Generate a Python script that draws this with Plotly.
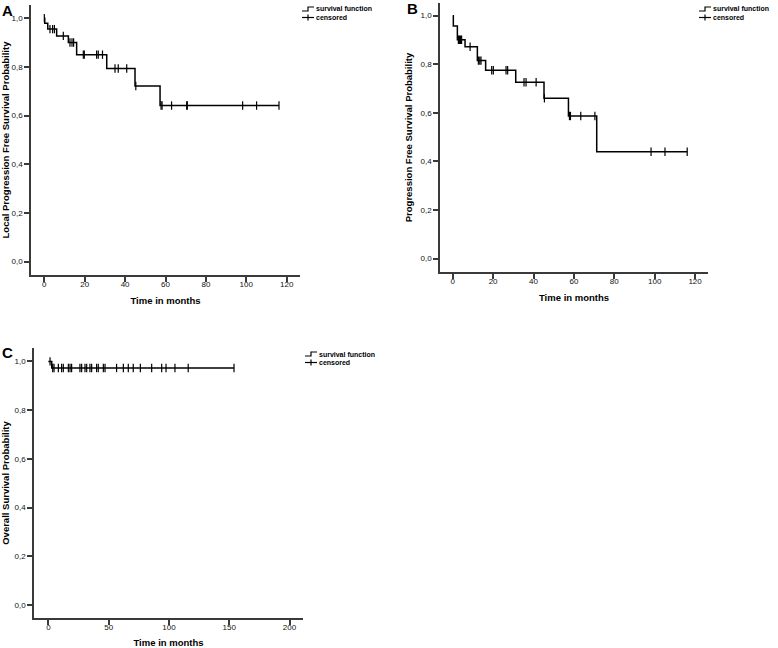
"""Kaplan-Meier curves: local PFS (A), PFS (B), overall survival (C)."""

import plotly.graph_objects as go

# ==== data ====
# Panel A: local progression free survival
a_event_times = [0.2, 1.7, 6.1, 11.9, 16.0, 30.9, 44.9, 57.3]
a_survival = [0.979, 0.955, 0.927, 0.900, 0.850, 0.793, 0.721, 0.641]
a_censor_times = [0.0, 2.8, 4.1, 5.0, 9.4, 12.7, 13.7, 14.5, 19.3, 19.8, 25.9, 26.7,
                  28.8, 35.0, 36.6, 40.8, 45.3, 57.8, 58.3, 63.0, 70.5, 70.8, 98.2,
                  105.1, 116.2]

# Panel B: progression free survival
b_event_times = [0.3, 2.3, 6.1, 12.2, 16.3, 31.2, 45.2, 57.3, 71.3]
b_survival = [0.957, 0.901, 0.872, 0.815, 0.775, 0.726, 0.660, 0.587, 0.440]
b_censor_times = [2.8, 3.3, 3.8, 4.4, 8.6, 12.7, 13.4, 14.0, 19.3, 20.1, 26.4, 27.2,
                  35.3, 36.3, 41.3, 45.4, 57.8, 58.3, 63.4, 70.4, 98.2, 105.1, 116.1]

# Panel C: overall survival
c_event_times = [2.8]
c_survival = [0.973]
c_censor_times = [1.4, 3.6, 4.7, 8.3, 11.0, 12.4, 16.6, 18.0, 19.3, 26.2, 27.6, 30.4,
                  31.8, 34.5, 35.9, 40.0, 41.4, 45.6, 47.0, 56.6, 62.2, 66.3, 70.4,
                  76.3, 85.7, 94.0, 97.6, 105.0, 116.0, 154.0]

y_titles = [
    "Local Progression Free Survival Probability",
    "Progression Free Survival Probability",
    "Overall Survival Probability",
]
panel_letters = ["A", "B", "C"]
x_title = "Time in months"
legend_labels = ["survival function", "censored"]

FONT = "Liberation Sans, Arial, sans-serif"
AXIS_COLOR = "#3a3a3a"
W, H = 778, 648


def survival_at(t, event_times, survival):
    s = 1.0
    for et, sv in zip(event_times, survival):
        if et <= t:
            s = sv
    return s


def add_km(fig, event_times, survival, censor_times, xref, yref):
    end = max(censor_times[-1], event_times[-1])
    xs = [0.0] + event_times + [end]
    ys = [1.0] + survival + [survival[-1]]
    fig.add_trace(go.Scatter(
        x=xs, y=ys, mode="lines", line=dict(shape="hv", color="black", width=1.5),
        name=legend_labels[0], xaxis=xref, yaxis=yref, showlegend=False,
    ))
    cy = [survival_at(t, event_times, survival) for t in censor_times]
    fig.add_trace(go.Scatter(
        x=censor_times, y=cy, mode="markers",
        marker=dict(symbol="line-ns", size=6, line=dict(color="black", width=1.2)),
        name=legend_labels[1], xaxis=xref, yaxis=yref, showlegend=False,
    ))


def px_x(v):
    return v / W


def px_y(v):
    return 1 - v / H


def legend_box(x0, y0):
    """SPSS-style legend: step glyph + 'survival function', cross glyph + 'censored'."""
    line = dict(color="black", width=1.2)
    y1 = y0 + 8.5
    shapes = [
        dict(type="path", xref="paper", yref="paper", line=line,
             path="M %f %f L %f %f L %f %f L %f %f" % (
                 px_x(x0), px_y(y0 + 2), px_x(x0 + 6), px_y(y0 + 2),
                 px_x(x0 + 6), px_y(y0 - 2), px_x(x0 + 12), px_y(y0 - 2))),
        dict(type="line", xref="paper", yref="paper", line=line,
             x0=px_x(x0), x1=px_x(x0 + 12), y0=px_y(y1), y1=px_y(y1)),
        dict(type="line", xref="paper", yref="paper", line=line,
             x0=px_x(x0 + 6), x1=px_x(x0 + 6), y0=px_y(y1 - 3), y1=px_y(y1 + 3)),
    ]
    annotations = [
        dict(text="<b>%s</b>" % lab, x=px_x(x0 + 12), y=px_y(yy), xref="paper",
             yref="paper", showarrow=False, xanchor="left", yanchor="middle",
             font=dict(size=7))
        for lab, yy in zip(legend_labels, [y0, y1])
    ]
    return shapes, annotations


fig = go.Figure()
add_km(fig, a_event_times, a_survival, a_censor_times, "x", "y")
add_km(fig, b_event_times, b_survival, b_censor_times, "x2", "y2")
add_km(fig, c_event_times, c_survival, c_censor_times, "x3", "y3")

# panel boxes in pixels: (left, right, top, bottom), x range, y range, dtick
panels = [
    ((31, 300, 5, 275), [-6.6, 126.6], [-0.055, 1.054], 20),
    ((440, 708, 3, 272), [-6.3, 126.4], [-0.055, 1.052], 20),
    ((34, 303, 348, 618), [-11.9, 211.2], [-0.053, 1.055], 50),
]
legend_pos = [(302, 9), (699, 9), (305, 354)]

layout = dict(
    width=W, height=H, margin=dict(l=0, r=0, t=0, b=0),
    paper_bgcolor="white", plot_bgcolor="white",
    separators=",.", font=dict(family=FONT, color="black"),
    annotations=[], shapes=[], showlegend=False,
)
for i, ((l, r, t, b), xr, yr, dtick) in enumerate(panels):
    sfx = "" if i == 0 else str(i + 1)
    common = dict(
        showgrid=False, zeroline=False, showline=True, linecolor=AXIS_COLOR,
        linewidth=1.5, ticks="outside", ticklen=5, tickwidth=1.5,
        tickcolor=AXIS_COLOR, tickfont=dict(size=8, color="#111"),
        automargin=False, fixedrange=True,
    )
    layout["xaxis" + sfx] = dict(
        common, domain=[l / W, r / W], range=xr, tick0=0, dtick=dtick,
        anchor="y" + sfx, ticklabelstandoff=-4,
        title=dict(text="<b>%s</b>" % x_title, font=dict(size=9.5), standoff=9),
    )
    layout["yaxis" + sfx] = dict(
        common, domain=[1 - b / H, 1 - t / H], range=yr, tick0=0, dtick=0.2,
        tickformat=".1f", anchor="x" + sfx,
        title=dict(text="<b>%s</b>" % y_titles[i], font=dict(size=9.5), standoff=6),
    )
    shapes, annots = legend_box(*legend_pos[i])
    layout["shapes"] += shapes
    layout["annotations"] += annots

letter_pos = [(7, 11), (412, 9), (8, 352)]
for letter, (px, py) in zip(panel_letters, letter_pos):
    layout["annotations"].append(dict(
        text="<b>%s</b>" % letter, x=px / W, y=1 - py / H, xref="paper", yref="paper",
        showarrow=False, xanchor="center", yanchor="middle", font=dict(size=15),
    ))

fig.update_layout(**layout)
fig.write_html("out.html", config={"displayModeBar": False},
               post_script="document.body.style.margin='0';")
